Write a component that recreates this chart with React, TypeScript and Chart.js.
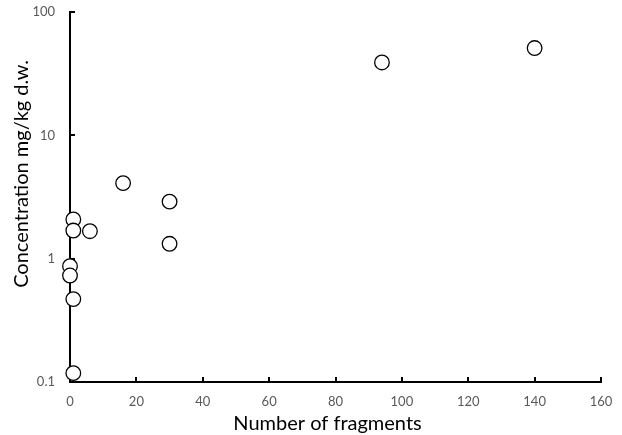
import { useEffect, useRef } from "react";
import { Chart, registerables } from "chart.js";

Chart.register(...registerables);

// Data
const fragments = [140, 94, 16, 30, 30, 6, 1, 1, 0, 0, 1, 1];
const concentrations = [51, 39, 4.1, 2.9, 1.32, 1.67, 2.08, 1.69, 0.87, 0.73, 0.47, 0.118];

const xTicks = [0, 20, 40, 60, 80, 100, 120, 140, 160];
const yTicks = [0.1, 1, 10, 100];
const yTickLabels = ["0.1", "1", "10", "100"];

const xTitle = "Number of fragments";
const yTitle = "Concentration mg/kg d.w.";

const FONT = "Lato, 'Open Sans', sans-serif";

const innerTicksAndTitles = {
  id: "innerTicksAndTitles",
  beforeDatasetsDraw(chart: any) {
    const ctx = chart.ctx;
    const xs = chart.scales.x;
    const ys = chart.scales.y;
    const area = chart.chartArea;
    ctx.save();
    ctx.strokeStyle = "#000";
    ctx.lineWidth = 2;
    ctx.beginPath();
    xTicks.forEach((v) => {
      if (v === xTicks[0]) return;
      const px = Math.round(xs.getPixelForValue(v));
      ctx.moveTo(px, area.bottom);
      ctx.lineTo(px, area.bottom - 5);
    });
    yTicks.forEach((v) => {
      if (v === yTicks[0]) return;
      const py = Math.round(ys.getPixelForValue(v));
      ctx.moveTo(area.left, py);
      ctx.lineTo(area.left + 5, py);
    });
    ctx.stroke();
    ctx.restore();
  },
  afterDraw(chart: any) {
    const ctx = chart.ctx;
    const area = chart.chartArea;
    ctx.save();
    ctx.fillStyle = "#000";
    ctx.font = `20px ${FONT}`;
    ctx.textAlign = "center";
    ctx.textBaseline = "middle";
    ctx.fillText(xTitle, (area.left + area.right) / 2 - 8, 424);
    ctx.translate(22, (area.top + area.bottom) / 2 - 23);
    ctx.rotate(-Math.PI / 2);
    ctx.fillText(yTitle, 0, 0);
    ctx.restore();
  },
};

export default function App() {
  const ref = useRef<HTMLCanvasElement | null>(null);

  useEffect(() => {
    document.body.style.margin = "0";
    if (!ref.current) return;
    const chart = new Chart(ref.current, {
      type: "scatter",
      data: {
        datasets: [
          {
            data: fragments.map((x, i) => ({ x, y: concentrations[i] })),
            pointRadius: 7.3,
            pointHoverRadius: 7.3,
            pointBackgroundColor: "#fff",
            pointBorderColor: "#000",
            pointBorderWidth: 1.3,
            clip: false as any,
          },
        ],
      },
      options: {
        responsive: false,
        animation: false,
        events: [],
        layout: { padding: { top: 12, right: 21, left: 0, bottom: 0 } },
        plugins: {
          legend: { display: false },
          tooltip: { enabled: false },
        },
        scales: {
          x: {
            type: "linear",
            min: 0,
            max: 160,
            afterBuildTicks: (s: any) => {
              s.ticks = xTicks.map((v) => ({ value: v }));
            },
            afterFit: (s: any) => {
              s.height = 53;
              s.paddingLeft = 0;
              s.paddingRight = 0;
            },
            grid: { display: false, drawTicks: false },
            border: { display: true, color: "#000", width: 2 },
            ticks: {
              color: "#595959",
              font: { family: FONT, size: 13 },
              padding: 12,
              maxRotation: 0,
            },
          },
          y: {
            type: "logarithmic",
            min: 0.1,
            max: 100,
            afterBuildTicks: (s: any) => {
              s.ticks = yTicks.map((v) => ({ value: v }));
            },
            afterFit: (s: any) => {
              s.width = 70;
              s.paddingTop = 0;
              s.paddingBottom = 0;
            },
            grid: { display: false, drawTicks: false },
            border: { display: true, color: "#000", width: 2 },
            ticks: {
              color: "#595959",
              font: { family: FONT, size: 13 },
              padding: 15,
              callback: (v: any) => {
                const i = yTicks.indexOf(Number(v));
                return i >= 0 ? yTickLabels[i] : "";
              },
            },
          },
        },
      },
      plugins: [innerTicksAndTitles],
    });
    return () => chart.destroy();
  }, []);

  return (
    <div style={{ width: 622, height: 435 }}>
      <canvas ref={ref} width={622} height={435} style={{ display: "block" }} />
    </div>
  );
}
